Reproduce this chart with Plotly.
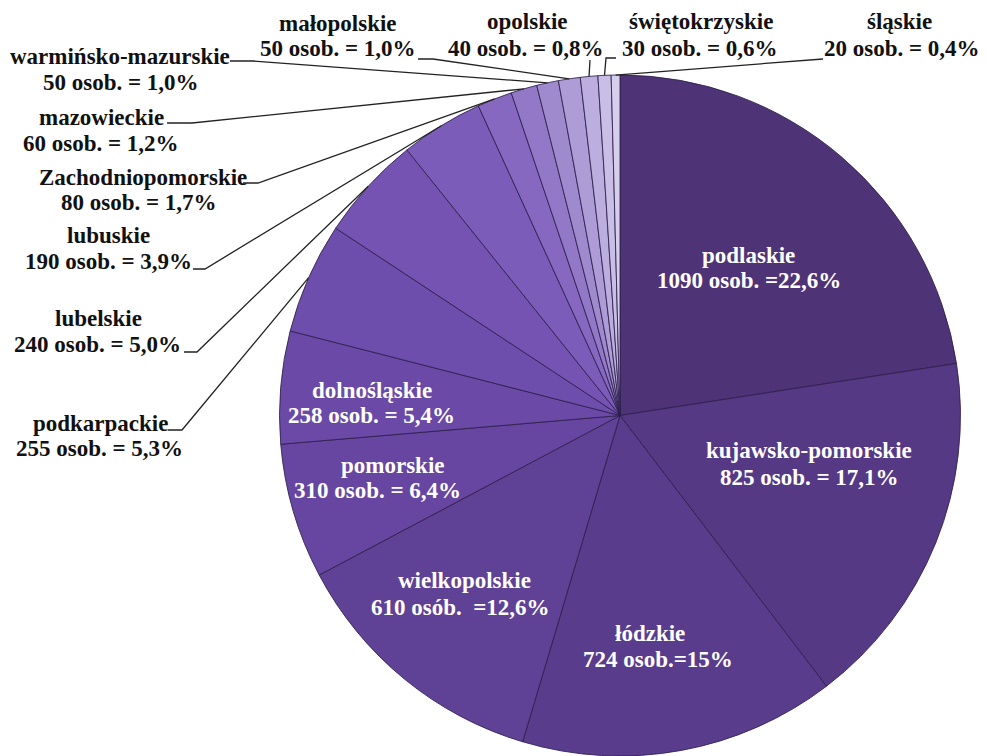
import math
import plotly.graph_objects as go

# ---------------- data ----------------
regions = ["podlaskie", "kujawsko-pomorskie", "łódzkie", "wielkopolskie", "pomorskie",
           "dolnośląskie", "podkarpackie", "lubelskie", "lubuskie", "Zachodniopomorskie",
           "mazowieckie", "warmińsko-mazurskie", "małopolskie", "opolskie",
           "świętokrzyskie", "śląskie"]
counts = [1090, 825, 724, 610, 310, 258, 255, 240, 190, 80, 60, 50, 50, 40, 30, 20]
count_texts = ["1090 osob. =22,6%", "825 osob. = 17,1%", "724 osob.=15%",
               "610 osób.  =12,6%", "310 osob. = 6,4%", "258 osob. = 5,4%",
               "255 osob. = 5,3%", "240 osob. = 5,0%", "190 osob. = 3,9%",
               "80 osob. = 1,7%", "60 osob. = 1,2%", "50 osob. = 1,0%",
               "50 osob. = 1,0%", "40 osob. = 0,8%", "30 osob. = 0,6%",
               "20 osob. = 0,4%"]

# ---------------- style ----------------
colors = ["#4E3476", "#553985", "#593C8C", "#5F4195", "#6646A0", "#6A4AA6",
          "#6E4EAC", "#7453B3", "#7B5CB9", "#8668C0", "#9278C7", "#A08ACE",
          "#AE9CD6", "#BCAEDE", "#C9BFE6", "#D6CFEC"]

W, H = 987, 756
PIE_LEFT, PIE_RIGHT, PIE_TOP = 279, 961, 75
FONT = "'Liberation Serif', 'Times New Roman', 'DejaVu Serif Condensed', 'DejaVu Serif'"
FSIZE = 23

# label layout in pixels: (x line1, y line1, x line2, y line2, inside?, leader start points)
label_layout = {
    "podlaskie": (748, 255, 749, 281, True, None),
    "kujawsko-pomorskie": (809, 450, 809, 477, True, None),
    "łódzkie": (650, 633, 658, 659, True, None),
    "wielkopolskie": (464, 580, 460, 607, True, None),
    "pomorskie": (393, 465, 377, 490, True, None),
    "dolnośląskie": (372, 390, 371, 415, True, None),
    "podkarpackie": (100, 423, 99, 448, False, [(168, 430), (182, 430)]),
    "lubelskie": (98, 318, 97, 345, False, [(184, 352), (197, 352)]),
    "lubuskie": (108, 236, 108, 262, False, [(193, 269), (205, 269)]),
    "Zachodniopomorskie": (143, 177, 139, 202, False, [(243, 183), (258, 183)]),
    "mazowieckie": (101, 117, 101, 143, False, [(167, 123), (192, 123)]),
    "warmińsko-mazurskie": (120, 56, 121, 82, False, [(230, 61), (253, 61)]),
    "małopolskie": (338, 23, 338, 49, False, [(418, 59), (433, 59)]),
    "opolskie": (527, 22, 526, 48, False, [(590, 60)]),
    "świętokrzyskie": (701, 22, 700, 48, False, [(616, 58), (606, 58)]),
    "śląskie": (899, 22, 902, 48, False, [(823, 59)]),
}

dom_x = [PIE_LEFT / W, PIE_RIGHT / W]
dom_y = [0, 1 - PIE_TOP / H]
R = min(PIE_RIGHT - PIE_LEFT, H - PIE_TOP) / 2
CX = (PIE_LEFT + PIE_RIGHT) / 2
CY = H - (H - PIE_TOP) / 2

fig = go.Figure(go.Pie(
    labels=regions, values=counts, sort=False, direction="clockwise", rotation=0,
    textinfo="none", hoverinfo="label+value+percent",
    marker=dict(colors=colors, line=dict(color="rgba(45,30,75,0.85)", width=1)),
    domain=dict(x=dom_x, y=dom_y), showlegend=False,
))

def px(x):
    return x / W

def py(y):
    return 1 - y / H

annotations = []
shapes = []
total = sum(counts)
cum = 0
for name, val, ctext in zip(regions, counts, count_texts):
    x1, y1, x2, y2, inside, leader = label_layout[name]
    col = "white" if inside else "#111111"
    for xx, yy, t in ((x1, y1, name), (x2, y2, ctext)):
        annotations.append(dict(
            x=px(xx), y=py(yy), xref="paper", yref="paper", text="<b>" + t + "</b>",
            showarrow=False, xanchor="center", yanchor="middle",
            font=dict(family=FONT, size=FSIZE, color=col),
        ))
    theta = 2 * math.pi * (cum + val / 2) / total
    cum += val
    if leader:
        ex = CX + R * math.sin(theta)
        ey = CY - R * math.cos(theta)
        pts = leader + [(ex, ey)]
        path = "M " + " L ".join(f"{px(a):.5f},{py(b):.5f}" for a, b in pts)
        shapes.append(dict(type="path", path=path, xref="paper", yref="paper",
                           line=dict(color="#222222", width=1.3)))

fig.update_layout(
    width=W, height=H, margin=dict(l=0, r=0, t=0, b=0),
    paper_bgcolor="white", plot_bgcolor="white",
    font=dict(family=FONT),
    annotations=annotations, shapes=shapes,
)
fig.write_html("out.html")
